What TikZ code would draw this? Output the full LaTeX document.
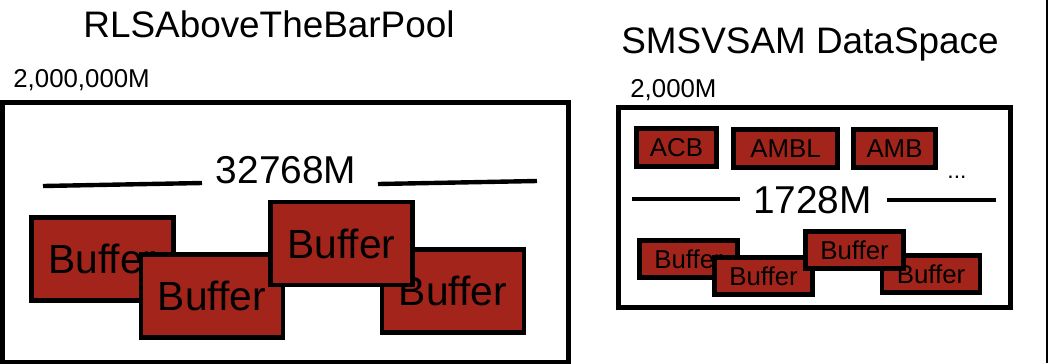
\documentclass[tikz,border=0pt]{standalone}
\usepackage{fontspec}
\setmainfont{Liberation Sans}
\usetikzlibrary{positioning}
\definecolor{bufcolor}{RGB}{162,36,27}

\begin{document}
\begin{tikzpicture}[
    x=0.02cm, y=-0.02cm,
    container/.style={draw, line width=2.7pt},
    buffer/.style={rectangle, draw, line width=2.8pt, fill=bufcolor, inner sep=0pt, minimum width=2.84cm, minimum height=1.66cm, font=\fontsize{23.2}{26}\selectfont},
    smallbuf/.style={buffer, minimum width=1.96cm, minimum height=0.74cm, font=\fontsize{14.7}{17}\selectfont},
    ctrlblock/.style={smallbuf, minimum height=0.76cm},
    title/.style={anchor=base, inner sep=0pt, font=\fontsize{21}{24}\selectfont},
    sizelabel/.style={anchor=base west, inner sep=0pt, font=\fontsize{14.7}{17}\selectfont},
    lenlabel/.style={anchor=base, inner sep=0pt, font=\fontsize{22.1}{25}\selectfont},
    bar/.style={line width=2.5pt}
]
\useasboundingbox (0,0) rectangle (1049,363);

% Pool above the bar
\node[title] (pool_title) at (269,37) {RLSAboveTheBarPool};
\node[sizelabel] (pool_size) at (13,87) {2,000,000M};
\draw[container] (2.5,102.5) rectangle (568.5,362.5);

\node[lenlabel] (pool_len) at (286,183) {32768M};
\draw[bar] (43,186) -- (202,183);
\draw[bar] (378,184) -- (537,181);

\node[buffer] (buf_a) at (102.5,259) {Buffer};
\node[buffer] (buf_b) at (212,296) {Buffer};
\node[buffer] (buf_d) at (453,291) {Buffer};
\node[buffer] (buf_c) at (341.5,243.5) {Buffer};

% Data space
\node[title] (space_title) at (810,53) {SMSVSAM DataSpace};
\node[sizelabel] (space_size) at (630,97) {2,000M};
\draw[container] (618.5,107.5) rectangle (1010.5,307.5);

\node[ctrlblock, minimum width=1.6cm] (acb) at (676.5,147.5) {ACB};
\node[ctrlblock, minimum width=2.08cm] (ambl) at (785.5,148.5) {AMBL};
\node[ctrlblock, minimum width=1.64cm] (amb) at (894.5,148.5) {AMB};
\node[anchor=base, inner sep=0pt, font=\fontsize{13}{15}\selectfont] (more) at (957,178) {...};

\node[lenlabel] (space_len) at (812.5,213) {1728M};
\draw[bar] (632,199) -- (740,199);
\draw[bar] (887,200) -- (996,200);

\node[smallbuf] (sbuf_a) at (688.5,259) {Buffer};
\node[smallbuf] (sbuf_b) at (763.5,276) {Buffer};
\node[smallbuf] (sbuf_d) at (931,274) {Buffer};
\node[smallbuf] (sbuf_c) at (854.5,250) {Buffer};

% edge of the next panel
\draw[line width=1.2pt] (1047,0) -- (1047,363);
\end{tikzpicture}
\end{document}
